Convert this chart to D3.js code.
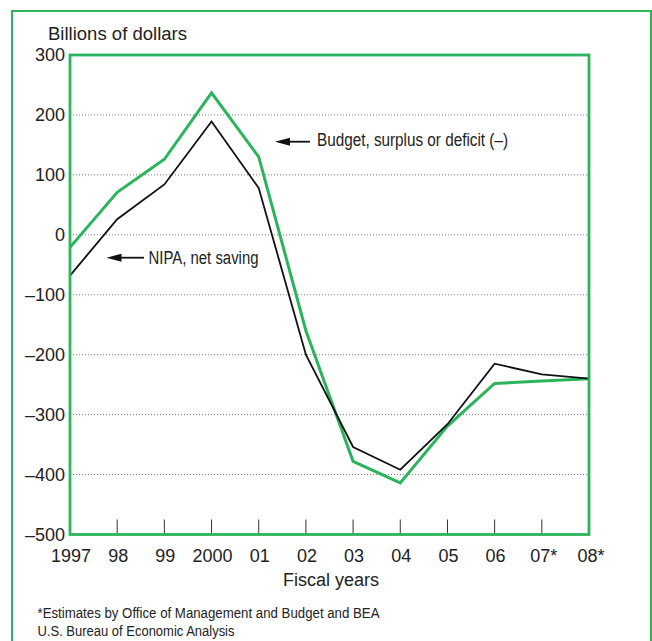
<!DOCTYPE html>
<html>
<head>
<meta charset="utf-8">
<script src="https://cdn.jsdelivr.net/npm/d3@7"></script>
<style>
  html, body { margin: 0; padding: 0; background: #fff; }
  svg { display: block; font-family: "Liberation Sans", Arial, Helvetica, sans-serif; }
</style>
</head>
<body>
<svg id="chart" width="652" height="641"></svg>
<script>
// ---- data ----
const years = ["1997", "98", "99", "2000", "01", "02", "03", "04", "05", "06", "07*", "08*"];
const budget = [-21, 71, 126, 237, 130, -160, -378, -414, -319, -248, -244, -240];
const nipa = [-68, 26, 84, 189, 78, -200, -354, -392, -316, -215, -233, -240];
const yTicks = [300, 200, 100, 0, -100, -200, -300, -400, -500];
const gridValues = [200, 100, 0, -100, -200, -300, -400];
const yLabel = "Billions of dollars";
const xLabel = "Fiscal years";
const budgetLabel = "Budget, surplus or deficit (–)";
const nipaLabel = "NIPA, net saving";
const footnotes = ["*Estimates by Office of Management and Budget and BEA", "U.S. Bureau of Economic Analysis"];

const green = "#2bb45c";
const svg = d3.select("#chart");

const L = 70, R = 589, T = 55, B = 534.5;
const x = d3.scaleLinear().domain([0, years.length - 1]).range([L, R]);
const y = d3.scaleLinear().domain([-500, 300]).range([B, T]);

// outer frame
svg.append("rect").attr("x", 12).attr("y", 11).attr("width", 639).attr("height", 700)
  .attr("fill", "none").attr("stroke", green).attr("stroke-width", 2);

// grid lines
svg.append("g").selectAll("line").data(gridValues).join("line")
  .attr("x1", L + 3).attr("x2", R - 2)
  .attr("y1", d => y(d)).attr("y2", d => y(d))
  .attr("stroke", "#777").attr("stroke-width", 1).attr("stroke-dasharray", "1,2");

// x ticks (inside, upward)
svg.append("g").selectAll("line").data(years.slice(1, -1)).join("line")
  .attr("x1", (d, i) => x(i + 1)).attr("x2", (d, i) => x(i + 1))
  .attr("y1", B).attr("y2", B - 15)
  .attr("stroke", "#333").attr("stroke-width", 1);

// y labels
svg.append("g").selectAll("text").data(yTicks).join("text")
  .attr("x", 65).attr("y", d => y(d)).attr("dy", "0.36em")
  .attr("text-anchor", "end").attr("font-size", 18).attr("fill", "#222")
  .text(d => d < 0 ? "–" + Math.abs(d) : String(d));

// x labels
svg.append("g").selectAll("text").data(years).join("text")
  .attr("x", (d, i) => x(i) + (d.endsWith("*") ? 2 : 1)).attr("y", 562)
  .attr("text-anchor", "middle").attr("font-size", 18).attr("fill", "#222")
  .text(d => d);

// lines
const line = d3.line().x((d, i) => x(i)).y(d => y(d));
svg.append("path").datum(budget).attr("d", line)
  .attr("fill", "none").attr("stroke", green).attr("stroke-width", 3).attr("stroke-linejoin", "miter");
svg.append("path").datum(nipa).attr("d", line)
  .attr("fill", "none").attr("stroke", "#111").attr("stroke-width", 1.8).attr("stroke-linejoin", "miter");

// plot frame
svg.append("rect").attr("x", L).attr("y", T).attr("width", R - L).attr("height", B - T)
  .attr("fill", "none").attr("stroke", green).attr("stroke-width", 2.8);

// axis titles
svg.append("text").attr("x", 48).attr("y", 40).attr("font-size", 18).attr("fill", "#222")
  .attr("textLength", 139).attr("lengthAdjust", "spacingAndGlyphs").text(yLabel);
svg.append("text").attr("x", 331).attr("y", 586).attr("text-anchor", "middle")
  .attr("font-size", 18).attr("fill", "#222").text(xLabel);

// annotations with arrows
function arrow(x1, x2, yy) {
  svg.append("line").attr("x1", x1 + 10).attr("x2", x2).attr("y1", yy).attr("y2", yy)
    .attr("stroke", "#111").attr("stroke-width", 1.8);
  svg.append("path").attr("d", `M${x1},${yy} L${x1 + 15},${yy - 4} L${x1 + 15},${yy + 4} Z`).attr("fill", "#111");
}
arrow(275, 310, 141.7);
arrow(106.5, 144, 257.7);

svg.append("text").attr("x", 317).attr("y", 146).attr("font-size", 18).attr("fill", "#222")
  .attr("textLength", 191).attr("lengthAdjust", "spacingAndGlyphs")
  .text(budgetLabel);
svg.append("text").attr("x", 148.5).attr("y", 264).attr("font-size", 18).attr("fill", "#222")
  .attr("textLength", 110).attr("lengthAdjust", "spacingAndGlyphs")
  .text(nipaLabel);

// footnotes
svg.append("g").selectAll("text").data(footnotes).join("text")
  .attr("x", 37.5).attr("y", (d, i) => 617.5 + i * 18.7)
  .attr("font-size", 14).attr("fill", "#222")
  .attr("textLength", (d, i) => i === 0 ? 342 : 197).attr("lengthAdjust", "spacingAndGlyphs")
  .text(d => d);
</script>
</body>
</html>
